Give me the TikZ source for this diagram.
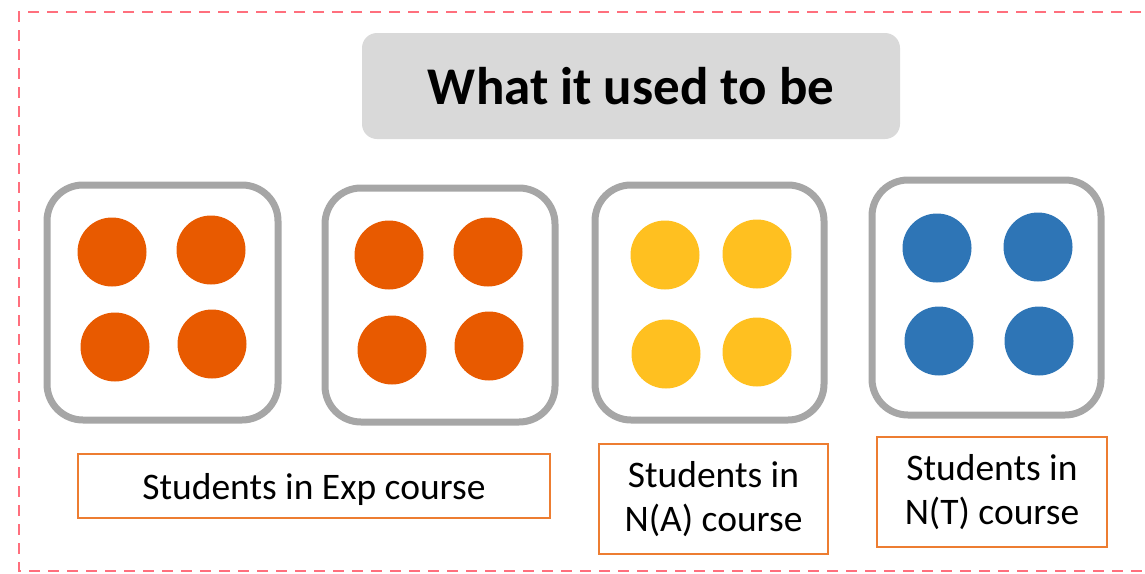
\documentclass[tikz,border=0pt]{standalone}
\usepackage{fontspec}
\setmainfont{Carlito}
\definecolor{dashpink}{HTML}{FF6F7D}
\definecolor{boxgray}{HTML}{A6A6A6}
\definecolor{titlegray}{HTML}{D9D9D9}
\definecolor{expor}{HTML}{E85A00}
\definecolor{nayel}{HTML}{FFC020}
\definecolor{ntblue}{HTML}{2E75B6}
\definecolor{lblor}{HTML}{ED7D31}
\tikzset{
  grpbox/.style={draw=boxgray, line width=7pt, rounded corners=36pt},
  dot/.style={circle, inner sep=0pt, minimum size=69pt},
  lblbox/.style={draw=lblor, line width=2pt, align=center, inner sep=0pt, font=\fontsize{37.5}{44.5}\selectfont},
}
\begin{document}
\begin{tikzpicture}[x=1pt,y=-1pt]
\useasboundingbox (0,0) rectangle (1145,573);
\clip (0,0) rectangle (1145,573);
% outer dashed frame
\draw[dashpink, line width=2.5pt, dash pattern=on 11pt off 8pt] (1160,12) -- (19,12) -- (19,571) -- (1160,571);
% title
\node[fill=titlegray, rounded corners=15pt, minimum width=538pt, minimum height=106pt, inner sep=0pt, font=\fontsize{53}{62}\selectfont\bfseries] (title) at (631,86) {What it used to be};
% group boxes
\draw[grpbox] (47,185) rectangle (278,420);
\draw[grpbox] (325,188) rectangle (555,422);
\draw[grpbox] (595,185) rectangle (824,420);
\draw[grpbox] (872,180) rectangle (1101,415);
% dots
\node[dot, fill=expor] (a1) at (112,252) {};
\node[dot, fill=expor] (a2) at (211,250) {};
\node[dot, fill=expor] (a3) at (115,347) {};
\node[dot, fill=expor] (a4) at (212,344) {};
\node[dot, fill=expor] (b1) at (389,255) {};
\node[dot, fill=expor] (b2) at (488,252) {};
\node[dot, fill=expor] (b3) at (392,350) {};
\node[dot, fill=expor] (b4) at (489,346) {};
\node[dot, fill=nayel] (c1) at (665,255) {};
\node[dot, fill=nayel] (c2) at (757,254) {};
\node[dot, fill=nayel] (c3) at (666,354) {};
\node[dot, fill=nayel] (c4) at (757,352) {};
\node[dot, fill=ntblue] (d1) at (937,248) {};
\node[dot, fill=ntblue] (d2) at (1038,247) {};
\node[dot, fill=ntblue] (d3) at (939,341) {};
\node[dot, fill=ntblue] (d4) at (1039,341) {};
% labels
\node[lblbox, minimum width=472pt, minimum height=64pt, text height=34pt, text depth=8pt] (l1) at (314,486) {Students in Exp course};
\node[lblbox, minimum width=229pt, minimum height=110pt] (l2) at (713.5,499) {Students in\\N(A) course};
\node[lblbox, minimum width=230pt, minimum height=110pt] (l3) at (992,492) {Students in\\N(T) course};
\end{tikzpicture}
\end{document}
